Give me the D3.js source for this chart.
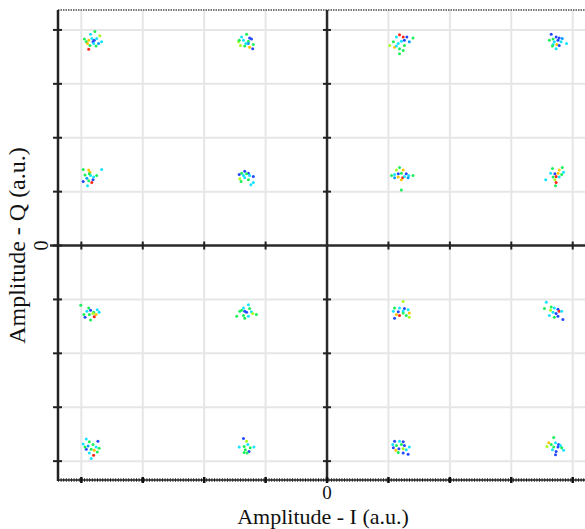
<!DOCTYPE html>
<html>
<head>
<meta charset="utf-8">
<script src="https://cdn.jsdelivr.net/npm/d3@7"></script>
<style>
  body { margin: 0; background: #fff; }
  text { font-family: "Liberation Serif", "Times New Roman", serif; fill: #111; }
</style>
</head>
<body>
<div id="chart"></div>
<script>
// constellation centres (I and Q levels, a.u.)
const iLevels = [-3.83, -1.31, 1.21, 3.73]
const qLevels = [3.81, 1.30, -1.22, -3.74]
const gridTicks = [-4, -3, -2, -1, 1, 2, 3, 4]
const axisTicks = [-4, -3, -2, -1, 0, 1, 2, 3, 4]
const tickLabels = ["0"]
const palette = ["#2448ff", "#0a9cff", "#16e4ff", "#1cf05a", "#a6ff1e", "#ffc400", "#ff2418"]

// scatter around each centre, [dI, dQ, colour], row by row (top row first)
const clusterPoints = [
  [[0.05,0.16,3],[-0.02,0.11,2],[-0.12,0.02,3],[-0.05,0,5],[-0.09,-0.03,3],[0,0.03,2],[0.04,0,0],[0.08,0.03,2],[0.13,0.08,4],[0.16,-0.03,2],[-0.05,-0.17,6],[-0.03,-0.1,3],[0.07,-0.11,3],[0.11,-0.06,1],[-0.07,-0.06,5],[0.02,-0.03,0],[0.03,-0.06,2]],
  [[0,0.11,3],[-0.08,0.06,2],[0.05,0.04,0],[-0.13,-0.03,4],[-0.05,0,2],[0.03,-0.02,3],[0.08,0.02,0],[-0.1,-0.1,4],[-0.03,-0.11,3],[0.05,-0.13,5],[0.1,-0.16,0],[0.11,-0.08,3],[-0.01,-0.06,2],[-0.12,0,3],[0.03,-0.06,1]],
  [[-0.03,0.1,6],[0.03,0.06,6],[-0.08,0.06,2],[0.09,0.06,0],[0.19,0.04,3],[0.13,-0.03,1],[-0.13,-0.03,3],[-0.19,-0.1,4],[-0.05,-0.06,2],[0,-0.02,2],[0.05,0,0],[-0.11,-0.13,5],[-0.03,-0.16,3],[0.03,-0.19,3],[-0.03,-0.25,3],[-0.08,-0.11,2],[0.05,-0.1,3]],
  [[-0.08,0.11,0],[0,0.06,0],[0.05,0.04,0],[0.1,0.03,1],[-0.05,0.02,3],[-0.11,0,3],[0.03,0,0],[-0.03,-0.03,2],[0.08,-0.03,2],[0.17,-0.06,2],[-0.05,-0.08,2],[0.01,-0.08,5],[0.05,-0.1,0],[0,-0.16,2],[-0.06,-0.11,3]],

  [[-0.14,0.11,3],[-0.05,0.1,5],[-0.03,0.06,5],[0.16,0.11,2],[-0.11,0.01,3],[-0.02,0,2],[0.03,-0.03,2],[0.08,0,3],[-0.08,-0.05,1],[-0.14,-0.11,0],[-0.05,-0.1,3],[0,-0.13,6],[-0.07,-0.19,2],[0.02,-0.08,0],[-0.04,0.03,3]],
  [[-0.03,0.08,0],[-0.08,0.04,3],[0.03,0.04,0],[-0.12,0.02,0],[-0.05,0,2],[0.05,0,2],[0.11,-0.02,0],[-0.11,-0.06,4],[-0.03,-0.04,2],[0.03,-0.08,3],[0.11,-0.13,2],[0.07,-0.17,2],[0,0.03,3],[-0.09,-0.11,3]],
  [[-0.03,0.15,3],[-0.08,0.1,4],[0.03,0.1,5],[-0.16,0,3],[-0.11,0.02,2],[-0.05,0.03,0],[0,0.04,3],[0.08,0.03,0],[0.12,0,2],[0.19,0,3],[-0.05,-0.03,5],[0.02,-0.04,6],[0.05,-0.02,2],[0.11,-0.04,1],[0,-0.08,5],[0,-0.27,3],[-0.11,-0.04,1]],
  [[-0.06,0.13,3],[0.1,0.15,3],[0.05,0.1,5],[-0.09,0.04,2],[-0.02,0.03,0],[0.03,0.04,5],[0.09,0.02,3],[-0.05,-0.03,3],[0,-0.02,6],[0.05,-0.03,2],[-0.17,-0.08,2],[-0.02,-0.08,4],[0,-0.13,6],[-0.01,-0.19,3],[0.12,0.06,2]],

  [[-0.18,0.11,3],[-0.05,0.06,3],[-0.08,0,2],[-0.02,0.02,0],[0.03,-0.02,3],[0.07,-0.06,5],[0.04,-0.1,6],[0.12,-0.02,2],[-0.11,-0.11,0],[-0.04,-0.06,3],[-0.02,-0.16,3],[0.09,0.03,2],[0.02,-0.04,4],[-0.13,-0.06,3]],
  [[0.03,0.12,2],[-0.05,0.06,2],[0.05,0.05,3],[-0.11,0,3],[-0.03,0,0],[0,-0.02,0],[0.08,-0.01,2],[0.16,-0.06,3],[-0.16,-0.09,3],[-0.05,-0.08,3],[0.03,-0.09,2],[0.1,-0.04,4],[-0.03,-0.13,3],[-0.08,0.02,3]],
  [[0.03,0.18,4],[-0.11,0.06,3],[-0.03,0.06,2],[0.05,0.05,0],[0.11,0.03,2],[-0.05,-0.01,0],[0.03,-0.03,3],[-0.08,-0.06,5],[-0.03,-0.08,6],[0.08,-0.08,3],[0.13,-0.03,5],[-0.11,-0.13,0],[0.13,-0.11,4],[-0.13,0,2],[0.03,0.01,2]],
  [[-0.16,0.17,2],[-0.08,0.08,3],[-0.03,0.06,2],[0.03,0.04,0],[0.05,0,6],[-0.09,0.02,4],[-0.05,-0.02,2],[0,-0.04,0],[0.09,0,2],[0.03,-0.09,0],[0.11,-0.15,0],[-0.11,-0.08,2],[-0.03,-0.11,3],[-0.19,0.05,3]],

  [[-0.09,0.15,2],[-0.14,0.06,2],[-0.04,0.1,3],[0.1,0.11,0],[0.02,0.05,3],[-0.06,0.02,1],[0.07,0,2],[0.12,-0.02,3],[-0.09,-0.04,0],[-0.01,-0.04,3],[0.04,-0.06,5],[0.03,-0.15,6],[-0.04,-0.11,2],[-0.01,-0.21,2],[0.09,-0.09,3],[-0.11,0,3]],
  [[-0.05,0.16,0],[0,0.11,4],[0.02,0.05,2],[-0.04,0.01,3],[-0.12,0,2],[0.06,-0.01,3],[0.12,0,2],[-0.02,-0.05,3],[0.04,-0.08,0],[-0.04,-0.1,3],[0.01,-0.11,3]],
  [[-0.11,0.11,0],[-0.03,0.11,2],[0.03,0.1,0],[-0.14,0.05,2],[-0.08,0.03,3],[0,0.05,3],[0.05,0.03,0],[0.13,0,2],[-0.13,-0.01,0],[-0.04,-0.03,0],[0.03,-0.03,4],[0.08,-0.05,2],[-0.05,-0.1,3],[0.03,-0.11,0],[0.11,-0.13,0],[-0.09,-0.06,5]],
  [[-0.04,0.18,3],[-0.12,0.08,5],[-0.08,0.05,3],[-0.01,0.08,2],[0.04,0.05,0],[-0.15,0.01,4],[-0.04,0,3],[0.03,0,0],[0.09,-0.01,3],[0.12,-0.06,2],[-0.06,-0.05,2],[0,-0.08,0],[-0.01,-0.14,0],[0.07,0.03,2]]
]

const width = 585, height = 529
const plotLeft = 58, plotTop = 10, plotBottom = 480

const x = d3.scaleLinear().domain([-4.38, 4.2]).range([plotLeft, width])
const y = d3.scaleLinear().domain([-4.35, 4.37]).range([plotBottom, plotTop])

const svg = d3.select("#chart").append("svg")
    .attr("width", width)
    .attr("height", height)

// light grid
svg.append("g").selectAll("line").data(gridTicks).join("line")
    .attr("x1", d => x(d)).attr("x2", d => x(d))
    .attr("y1", plotTop).attr("y2", plotBottom)
    .style("stroke", "#e6e6e6").style("stroke-width", "2px")
svg.append("g").selectAll("line").data(gridTicks).join("line")
    .attr("x1", plotLeft).attr("x2", width)
    .attr("y1", d => y(d)).attr("y2", d => y(d))
    .style("stroke", "#e6e6e6").style("stroke-width", "2px")

// top border, dotted
svg.append("line")
    .attr("x1", plotLeft).attr("x2", width).attr("y1", plotTop).attr("y2", plotTop)
    .style("stroke", "#777").style("stroke-width", "2px").style("stroke-dasharray", "1.5,1")

// centre cross
const cx = x(0), cy = y(0)
svg.append("line")
    .attr("x1", cx).attr("x2", cx).attr("y1", plotTop).attr("y2", plotBottom)
    .style("stroke", "#2a2a2a").style("stroke-width", "2.5px")
svg.append("line")
    .attr("x1", 50).attr("x2", width).attr("y1", cy).attr("y2", cy)
    .style("stroke", "#2a2a2a").style("stroke-width", "2.5px")
svg.append("g").selectAll("line").data(gridTicks).join("line")
    .attr("x1", cx - 4).attr("x2", cx + 4)
    .attr("y1", d => y(d)).attr("y2", d => y(d))
    .style("stroke", "#222").style("stroke-width", "2px")
svg.append("g").selectAll("line").data(gridTicks).join("line")
    .attr("x1", d => x(d)).attr("x2", d => x(d))
    .attr("y1", cy - 4).attr("y2", cy + 4)
    .style("stroke", "#222").style("stroke-width", "2px")

// left axis
svg.append("line")
    .attr("x1", plotLeft).attr("x2", plotLeft).attr("y1", plotTop).attr("y2", plotBottom + 1)
    .style("stroke", "#222").style("stroke-width", "2.5px")
svg.append("g").selectAll("line").data(axisTicks).join("line")
    .attr("x1", plotLeft - 5).attr("x2", plotLeft + 4)
    .attr("y1", d => y(d)).attr("y2", d => y(d))
    .style("stroke", "#222").style("stroke-width", "2px")

// bottom axis, solid line with dense minor marks
svg.append("line")
    .attr("x1", plotLeft).attr("x2", width).attr("y1", plotBottom).attr("y2", plotBottom)
    .style("stroke", "#222").style("stroke-width", "1.5px")
svg.append("line")
    .attr("x1", plotLeft).attr("x2", width).attr("y1", plotBottom).attr("y2", plotBottom)
    .style("stroke", "#222").style("stroke-width", "3.5px").style("stroke-dasharray", "1,1.6")
svg.append("g").selectAll("line").data(axisTicks).join("line")
    .attr("x1", d => x(d)).attr("x2", d => x(d))
    .attr("y1", plotBottom - 3).attr("y2", plotBottom + 3)
    .style("stroke", "#111").style("stroke-width", "2.5px")

// constellation points
const pts = []
clusterPoints.forEach((cl, k) => {
    const ci = iLevels[k % 4], cq = qLevels[Math.floor(k / 4)]
    cl.forEach(p => pts.push({ i: ci + p[0], q: cq + p[1], c: p[2] }))
})
svg.append("g").selectAll("circle").data(pts).join("circle")
    .attr("cx", d => x(d.i))
    .attr("cy", d => y(d.q))
    .attr("r", 1.5)
    .style("fill", d => palette[d.c])

// labels
svg.append("text")
    .attr("x", cx).attr("y", 499)
    .attr("text-anchor", "middle")
    .style("font-size", "19px")
    .text(tickLabels[0])
svg.append("text")
    .attr("x", 323).attr("y", 524)
    .attr("text-anchor", "middle")
    .style("font-size", "22px")
    .text("Amplitude - I (a.u.)")
svg.append("text")
    .attr("transform", `translate(48,${cy}) rotate(-90)`)
    .attr("text-anchor", "middle")
    .style("font-size", "20px")
    .text(tickLabels[0])
svg.append("text")
    .attr("transform", `translate(25,${cy}) rotate(-90)`)
    .attr("text-anchor", "middle")
    .style("font-size", "24px")
    .text("Amplitude - Q (a.u.)")
</script>
</body>
</html>
